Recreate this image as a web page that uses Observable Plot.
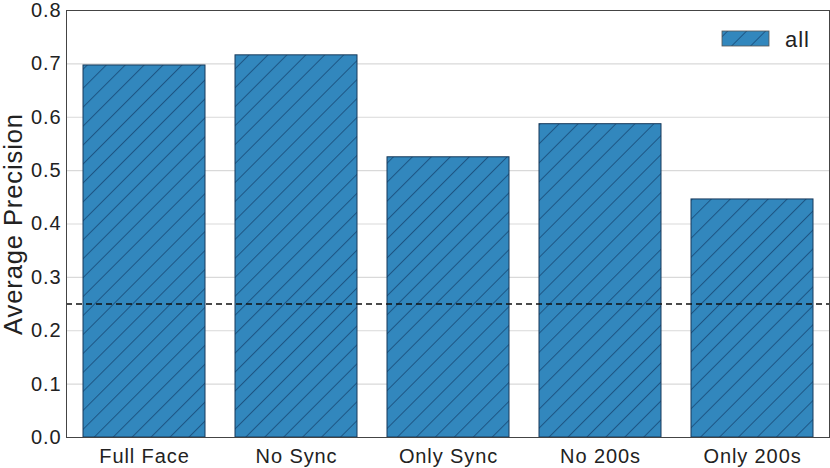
<!DOCTYPE html>
<html>
<head>
<meta charset="utf-8">
<script src="https://cdn.jsdelivr.net/npm/d3@7"></script>
<script src="https://cdn.jsdelivr.net/npm/@observablehq/plot@0.6"></script>
<style>
  html, body { margin: 0; padding: 0; background: #fff; }
  svg { display: block; }
</style>
</head>
<body>
<div id="chart"></div>
<script>
const categories = ["Full Face", "No Sync", "Only Sync", "No 200s", "Only 200s"];
const values = [0.697, 0.716, 0.525, 0.587, 0.446];
const chanceLevel = [0.25];
const yTicks = [0, 0.1, 0.2, 0.3, 0.4, 0.5, 0.6, 0.7, 0.8];
const seriesName = "all";
const yLabel = "Average Precision";

const data = categories.map((c, i) => ({category: c, value: values[i]}));

const fontFamily = "Liberation Sans, Arial, Helvetica, sans-serif";

const plot = Plot.plot({
  width: 830,
  height: 468,
  marginLeft: 66,
  marginRight: 1,
  marginTop: 10,
  marginBottom: 31,
  style: {fontFamily, fontSize: "20px", color: "#222", background: "#fff", letterSpacing: "0.9px"},
  x: {domain: categories, paddingInner: 0.2, paddingOuter: 0.1, align: 0.5, label: null},
  y: {domain: [0, 0.8], label: null},
  marks: [
    Plot.gridY(yTicks, {stroke: "#d9d9d9", strokeOpacity: 1, strokeWidth: 1.2}),
    Plot.barY(data, {x: "category", y: "value", fill: "url(#hatch)", stroke: "#17395a", strokeWidth: 1}),
    Plot.ruleY(chanceLevel, {stroke: "#111", strokeWidth: 1.6, strokeDasharray: "6,4"}),
    Plot.axisX({tickSize: 0, tickPadding: 11, fontSize: 20, fill: "#222"}),
    Plot.axisY(yTicks, {tickSize: 0, tickPadding: 5, fontSize: 20, fill: "#222", tickFormat: d3.format(".1f"), label: null}),
    Plot.text([yLabel], {frameAnchor: "left", textAnchor: "middle", dx: -53, rotate: -90, fontSize: 25.5, fill: "#222", text: d => d}),
    Plot.frame({stroke: "#444", strokeWidth: 1})
  ]
});

const svg = d3.select(plot);
const defs = svg.insert("defs", ":first-child");
const pat = defs.append("pattern")
  .attr("id", "hatch")
  .attr("patternUnits", "userSpaceOnUse")
  .attr("width", 13.4)
  .attr("height", 13.4)
  .attr("patternTransform", "rotate(45)");
pat.append("rect").attr("width", 13.4).attr("height", 13.4).attr("fill", "#3287bd");
pat.append("line").attr("x1", 0.5).attr("y1", 0).attr("x2", 0.5).attr("y2", 13.4)
  .attr("stroke", "#1d5584").attr("stroke-width", 1);

// legend
const lg = svg.append("g").attr("font-family", fontFamily).attr("text-anchor", "start");
lg.append("rect").attr("x", 722).attr("y", 31).attr("width", 47).attr("height", 15)
  .attr("fill", "url(#hatch)").attr("stroke", "#555").attr("stroke-width", 0.8);
lg.append("text").attr("x", 785).attr("y", 47).attr("font-size", 22).attr("fill", "#222").text(seriesName);

document.getElementById("chart").appendChild(plot);
</script>
</body>
</html>
